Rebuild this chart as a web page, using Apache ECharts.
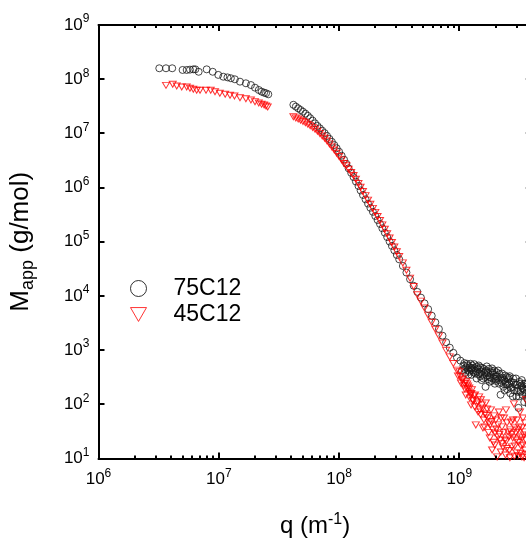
<!DOCTYPE html>
<html><head><meta charset="utf-8">
<script src="https://cdn.jsdelivr.net/npm/echarts@6/dist/echarts.min.js"></script>
<style>html,body{margin:0;padding:0;background:#fff}#c{width:526px;height:543px}</style>
</head><body><div id="c"></div>
<script>
// ---- data (q in m^-1, Mapp in g/mol) ----
const qLow75 = [3.2e6,3.64e6,4.1e6,5.0e6,5.41e6,5.76e6,6.14e6,6.38e6,6.8e6,7.93e6,8.9e6,9.9e6,1.09e7,1.18e7,1.26e7,1.36e7,1.5e7,1.68e7,1.85e7,2.0e7,2.15e7,2.27e7,2.38e7,2.47e7,2.58e7];
const mLow75 = [1.59e8,1.59e8,1.59e8,1.48e8,1.48e8,1.5e8,1.52e8,1.52e8,1.37e8,1.52e8,1.37e8,1.2e8,1.11e8,1.08e8,1.04e8,9.96e7,9.0e7,8.4e7,7.8e7,6.97e7,6.32e7,5.88e7,5.64e7,5.5e7,5.26e7];
const qLow45 = [3.64e6,4.14e6,4.47e6,4.92e6,5.41e6,5.76e6,6.14e6,6.55e6,6.98e6,7.83e6,8.57e6,9.3e6,1.02e7,1.13e7,1.24e7,1.35e7,1.5e7,1.68e7,1.85e7,2.0e7,2.15e7,2.27e7,2.38e7,2.47e7,2.55e7];
const mLow45 = [7.7e7,8.05e7,7.5e7,7.18e7,7.18e7,6.8e7,6.51e7,6.24e7,6.24e7,6.24e7,6.24e7,5.88e7,5.5e7,5.26e7,5.05e7,4.9e7,4.56e7,4.37e7,4.13e7,3.85e7,3.64e7,3.44e7,3.34e7,3.2e7,3.07e7];
const qMid = [4.17e7,4.37e7,4.57e7,4.79e7,5.01e7,5.25e7,5.50e7,5.75e7,6.03e7,6.31e7,6.61e7,6.92e7,7.24e7,7.59e7,7.94e7,8.32e7,8.71e7,9.12e7,9.55e7,1.00e8,1.05e8,1.10e8,1.15e8,1.20e8,1.26e8,1.32e8,1.38e8,1.45e8,1.51e8,1.58e8,1.66e8,1.74e8,1.82e8,1.91e8,2.00e8,2.09e8,2.19e8,2.29e8,2.40e8,2.51e8,2.63e8,2.75e8,2.88e8,3.02e8,3.16e8];
const mMid75 = [3.37e7,3.12e7,2.90e7,2.70e7,2.51e7,2.31e7,2.11e7,1.91e7,1.72e7,1.53e7,1.37e7,1.24e7,1.12e7,1.01e7,8.96e6,7.89e6,6.97e6,6.08e6,5.31e6,4.58e6,3.87e6,3.27e6,2.74e6,2.26e6,1.87e6,1.56e6,1.29e6,1.07e6,8.83e5,7.30e5,6.05e5,5.05e5,4.24e5,3.57e5,2.99e5,2.52e5,2.13e5,1.77e5,1.47e5,1.22e5,1.01e5,8.38e4,6.93e4,5.70e4,4.73e4];
const mMid45 = [2.03e7,1.93e7,1.84e7,1.75e7,1.66e7,1.57e7,1.47e7,1.38e7,1.29e7,1.19e7,1.10e7,1.00e7,9.00e6,8.15e6,7.24e6,6.40e6,5.64e6,4.94e6,4.30e6,3.73e6,3.23e6,2.79e6,2.52e6,2.18e6,1.89e6,1.67e6,1.42e6,1.19e6,1.01e6,8.47e5,7.11e5,5.86e5,4.92e5,4.13e5,3.48e5,2.93e5,2.47e5,2.05e5,1.70e5,1.41e5,1.17e5,9.71e4,7.98e4,6.52e4,5.36e4];
const qHigh = [3.39e8,3.63e8,3.89e8,4.17e8,4.47e8,4.79e8,5.13e8,5.50e8,5.89e8,6.31e8,6.76e8,7.24e8,7.76e8,8.32e8,8.91e8,9.55e8,1.02e9,1.10e9,1.17e9,1.26e9];
const mHigh75 = [3.58e4,2.70e4,2.04e4,1.54e4,1.19e4,9.31e3,7.30e3,5.70e3,4.32e3,3.26e3,2.46e3,1.85e3,1.40e3,1.11e3,892,728,640,578,522,471];
const mHigh45 = [4.07e4,2.97e4,2.13e4,1.49e4,1.05e4,8.02e3,6.01e3,4.43e3,3.26e3,2.42e3,1.83e3,1.35e3,991,750,566,428,323,245,199,159];
const tail75 = [[1.05e9,420],[1.08e9,520],[1.10e9,450],[1.12e9,380],[1.14e9,480],[1.16e9,560],[1.18e9,430],[1.19e9,350],[1.21e9,400],[1.22e9,480],[1.24e9,560],[1.25e9,430],[1.26e9,350],[1.27e9,460],[1.28e9,520],[1.30e9,420],[1.31e9,390],[1.33e9,550],[1.34e9,470],[1.36e9,370],[1.37e9,410],[1.39e9,300],[1.40e9,500],[1.41e9,450],[1.43e9,360],[1.45e9,520],[1.46e9,440],[1.47e9,380],[1.49e9,330],[1.50e9,480],[1.52e9,400],[1.53e9,280],[1.55e9,470],[1.56e9,350],[1.58e9,300],[1.60e9,450],[1.61e9,380],[1.63e9,320],[1.65e9,210],[1.66e9,400],[1.67e9,420],[1.69e9,500],[1.70e9,340],[1.72e9,380],[1.73e9,290],[1.76e9,450],[1.78e9,260],[1.79e9,320],[1.81e9,310],[1.82e9,380],[1.85e9,270],[1.87e9,460],[1.88e9,410],[1.90e9,380],[1.91e9,300],[1.94e9,350],[1.95e9,420],[1.97e9,240],[1.99e9,290],[2.00e9,330],[2.02e9,270],[2.04e9,390],[2.06e9,330],[2.10e9,420],[2.12e9,280],[2.14e9,240],[2.16e9,360],[2.20e9,150],[2.22e9,300],[2.24e9,250],[2.26e9,370],[2.28e9,310],[2.30e9,270],[2.32e9,210],[2.36e9,280],[2.38e9,180],[2.40e9,340],[2.42e9,260],[2.45e9,230],[2.48e9,320],[2.50e9,190],[2.52e9,230],[2.55e9,290],[2.58e9,310],[2.60e9,240],[2.62e9,330],[2.65e9,160],[2.68e9,200],[2.70e9,260],[2.75e9,210],[2.78e9,140],[2.80e9,300],[2.84e9,250],[2.86e9,180],[2.92e9,230],[2.95e9,300],[2.98e9,140],[3.00e9,230],[3.04e9,200],[3.07e9,170],[3.10e9,86],[3.13e9,140],[3.16e9,260],[3.20e9,240],[3.22e9,170],[3.28e9,220],[3.30e9,280],[3.34e9,150],[3.36e9,200],[3.40e9,190],[3.45e9,240],[3.46e9,110],[3.50e9,180],[3.52e9,240],[3.58e9,160],[3.60e9,210],[3.64e9,130],[3.66e9,230],[3.70e9,200],[3.72e9,120],[3.76e9,100],[3.80e9,140],[3.82e9,170],[3.85e9,260],[3.90e9,150],[3.94e9,200]];
const tail45 = [[9.73e8,334],[1.00e9,400],[1.03e9,248],[1.05e9,280],[1.07e9,294],[1.09e9,220],[1.11e9,192],[1.13e9,149],[1.14e9,260],[1.16e9,238],[1.18e9,218],[1.20e9,169],[1.21e9,200],[1.22e9,131],[1.24e9,155],[1.25e9,97.5],[1.27e9,185],[1.29e9,120],[1.30e9,116],[1.32e9,143],[1.34e9,90],[1.35e9,149],[1.37e9,41.7],[1.40e9,102],[1.42e9,110],[1.43e9,72.4],[1.46e9,137],[1.48e9,78.9],[1.50e9,65],[1.51e9,121],[1.54e9,97.5],[1.56e9,85],[1.57e9,36.7],[1.60e9,51.5],[1.62e9,38],[1.63e9,66.5],[1.66e9,106],[1.68e9,62],[1.70e9,82.2],[1.73e9,56.1],[1.75e9,30],[1.76e9,45.4],[1.79e9,24.0],[1.80e9,41.7],[1.83e9,78.9],[1.85e9,48],[1.87e9,14.4],[1.90e9,33.7],[1.92e9,20],[1.94e9,61.1],[1.97e9,17.8],[1.98e9,29.6],[2.01e9,51.5],[2.03e9,35],[2.06e9,10.7],[2.09e9,25.1],[2.10e9,41.7],[2.13e9,72.4],[2.15e9,28],[2.18e9,22.0],[2.21e9,13.2],[2.22e9,56.1],[2.25e9,19],[2.26e9,38.3],[2.30e9,16.4],[2.33e9,30],[2.35e9,56.1],[2.39e9,22.0],[2.42e9,11.6],[2.44e9,78.9],[2.46e9,21],[2.48e9,15.3],[2.49e9,45.4],[2.54e9,31.0],[2.58e9,25.1],[2.60e9,14],[2.63e9,10.3],[2.64e9,33.7],[2.69e9,47.3],[2.72e9,28],[2.74e9,16.4],[2.78e9,24.0],[2.79e9,51.5],[2.84e9,102],[2.86e9,11],[2.89e9,17.1],[2.90e9,36.7],[2.94e9,30],[2.96e9,22.0],[2.99e9,12.7],[3.01e9,51.5],[3.06e9,11.2],[3.07e9,33.7],[3.10e9,20],[3.13e9,38.3],[3.19e9,72.4],[3.20e9,25.1],[3.22e9,12.5],[3.25e9,17.1],[3.30e9,36.7],[3.31e9,10.7],[3.34e9,24],[3.37e9,17.8],[3.38e9,56.1],[3.44e9,27.2],[3.45e9,10.3],[3.48e9,31],[3.50e9,45.4],[3.51e9,14.4],[3.55e9,12],[3.57e9,22.0],[3.58e9,121]];
const xMajorTicks = [1e6,1e7,1e8,1e9];
const xMinorTicks = [2e6,3e6,4e6,5e6,6e6,7e6,8e6,9e6,2e7,3e7,4e7,5e7,6e7,7e7,8e7,9e7,2e8,3e8,4e8,5e8,6e8,7e8,8e8,9e8,2e9,3e9];
const yMajorTicks = [1e1,1e2,1e3,1e4,1e5,1e6,1e7,1e8,1e9];
const seriesNames = ['75C12','45C12'];

// ---- build ----
const zip = (q, m) => q.map((v, i) => [v, m[i]]);
const data75 = zip(qLow75, mLow75).concat(zip(qMid, mMid75), zip(qHigh, mHigh75), tail75);
const data45 = zip(qLow45, mLow45).concat(zip(qMid, mMid45), zip(qHigh, mHigh45), tail45);

const FONT = 'Liberation Sans';
const TRI = 'path://M0,0L10,0L5,8.66Z';
const XMIN = 1e6, XMAX = 4e9, YMIN = 10, YMAX = 1e9;
const expLabel = v => {
  const e = Math.round(Math.log10(v));
  if (Math.abs(Math.pow(10, e) - v) / v > 1e-6) return '';
  return '{b|10}{s|' + e + '}';
};
const labRich = {
  b: {fontSize: 17, fontFamily: FONT, color: '#000', lineHeight: 24},
  s: {fontSize: 12, fontFamily: FONT, color: '#000', lineHeight: 13, verticalAlign: 'top'}
};
const axLine = {show: true, onZero: false, lineStyle: {color: '#000', width: 2}};

const chart = echarts.init(document.getElementById('c'), null, {renderer: 'canvas'});
chart.setOption({
  animation: false,
  backgroundColor: '#fff',
  grid: {left: 98.5, top: 25, right: -5.8, bottom: 84.5, containLabel: false, outerBoundsMode: 'none'},
  legend: {
    orient: 'vertical', left: 130, top: 277, padding: 0, itemWidth: 16, itemHeight: 16, itemGap: 3,
    selectedMode: false,
    textStyle: {fontSize: 23, fontFamily: FONT, color: '#000', padding: [0, 0, 0, 22]},
    data: [
      {name: seriesNames[0], icon: 'circle', itemStyle: {color: 'rgba(0,0,0,0)', borderColor: '#000', borderWidth: 1}},
      {name: seriesNames[1], icon: TRI, itemStyle: {color: 'rgba(0,0,0,0)', borderColor: '#ff0000', borderWidth: 1}}
    ]
  },
  xAxis: [
    {type: 'log', logBase: 10, min: XMIN, max: XMAX, position: 'bottom',
     axisLine: axLine, axisTick: {show: false},
     axisLabel: {show: true, margin: 9, formatter: expLabel, rich: labRich},
     splitLine: {show: false},
     name: '{t|q (m}{s|-1}{t|)}', nameLocation: 'middle', nameGap: 53,
     nameTextStyle: {rich: {
       t: {fontSize: 24, fontFamily: FONT, color: '#000', lineHeight: 30},
       s: {fontSize: 16, fontFamily: FONT, color: '#000', lineHeight: 16, verticalAlign: 'top'}}}},
    {type: 'log', logBase: 10, min: XMIN, max: XMAX, position: 'top',
     axisLine: axLine, axisTick: {show: false}, axisLabel: {show: false}, splitLine: {show: false}}
  ],
  yAxis: [
    {type: 'log', logBase: 10, min: YMIN, max: YMAX, interval: 1, position: 'left',
     axisLine: axLine, axisTick: {show: false},
     axisLabel: {show: true, margin: 9, formatter: expLabel, rich: labRich},
     splitLine: {show: false},
     name: '{t|M}{u|app}{t| (g/mol)}', nameLocation: 'middle', nameGap: 61, nameRotate: 90,
     nameTextStyle: {rich: {
       t: {fontSize: 26, fontFamily: FONT, color: '#000', lineHeight: 33},
       u: {fontSize: 18, fontFamily: FONT, color: '#000', lineHeight: 19, verticalAlign: 'bottom'}}}},
    {type: 'log', logBase: 10, min: YMIN, max: YMAX, position: 'right',
     axisLine: axLine, axisTick: {show: false}, axisLabel: {show: false}, splitLine: {show: false}}
  ],
  series: [
    {name: seriesNames[0], type: 'scatter', xAxisIndex: 0, yAxisIndex: 0, data: data75,
     symbol: 'circle', symbolSize: 7, silent: true,
     itemStyle: {color: 'rgba(0,0,0,0)', borderColor: '#1a1a1a', borderWidth: 1},
     emphasis: {disabled: true}},
    {name: seriesNames[1], type: 'scatter', xAxisIndex: 0, yAxisIndex: 0, data: data45,
     symbol: TRI, symbolSize: [7, 6], silent: true,
     itemStyle: {color: 'rgba(0,0,0,0)', borderColor: '#ff0000', borderWidth: 1},
     emphasis: {disabled: true}}
  ]
});

// tick marks placed with the chart's own axis scales
const px = v => chart.convertToPixel({xAxisIndex: 0}, v);
const py = v => chart.convertToPixel({yAxisIndex: 0}, v);
const yb = py(YMIN), yt = py(YMAX), xl = px(XMIN), xr = px(XMAX);
const tickEls = [];
const addLine = (x1, y1, x2, y2) => tickEls.push({type: 'line', silent: true, z: 50,
  shape: {x1: x1, y1: y1, x2: x2, y2: y2}, style: {stroke: '#000', lineWidth: 2}});
xMajorTicks.forEach(v => { const x = Math.round(px(v)); addLine(x, yb, x, yb - 6); addLine(x, yt, x, yt + 6); });
xMinorTicks.forEach(v => { const x = Math.round(px(v)); addLine(x, yb, x, yb - 3); addLine(x, yt, x, yt + 3); });
yMajorTicks.forEach(v => { const y = Math.round(py(v)); addLine(xl, y, xl + 6, y); addLine(xr, y, xr - 6, y); });
chart.setOption({graphic: {elements: tickEls}});
</script></body></html>
